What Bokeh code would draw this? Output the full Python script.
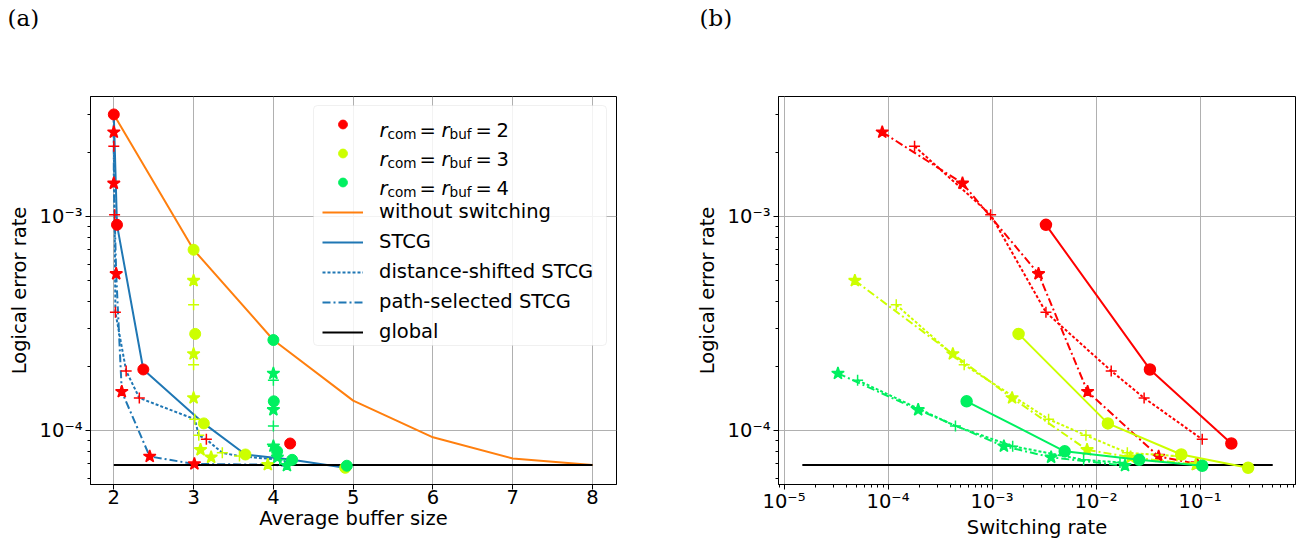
from bokeh.plotting import figure
from bokeh.models import (Range1d, FixedTicker, CustomJSTickFormatter, Legend,
                          LegendItem, Label, BoxAnnotation)
from bokeh.layouts import row
from bokeh.embed import file_html
from bokeh.resources import INLINE

# ---------------- data ----------------
r_values = [2, 3, 4]

# without switching (average buffer size = r)
nosw_buf = [2, 3, 4, 5, 6, 7, 8]
nosw_ler = [3.0e-3, 7.0e-4, 2.65e-4, 1.38e-4, 9.3e-5, 7.4e-5, 6.9e-5]

# global decoding
global_ler = 6.9e-5
global_buf_span = [2, 8]
global_sw_span = [1.5e-5, 0.5]

# STCG
stcg_r2_buf = [2.04, 2.37, 4.21]
stcg_r2_sw = [3.3e-3, 3.3e-2, 0.20]
stcg_r2_ler = [9.15e-4, 1.93e-4, 8.7e-5]
stcg_r3_buf = [3.02, 3.128, 3.65, 4.90]
stcg_r3_sw = [1.8e-3, 1.3e-2, 6.6e-2, 0.29]
stcg_r3_ler = [2.83e-4, 1.08e-4, 7.73e-5, 6.7e-5]
stcg_r4_buf = [4.005, 4.047, 4.235, 4.92]
stcg_r4_sw = [5.7e-4, 5.0e-3, 2.6e-2, 0.105]
stcg_r4_ler = [1.37e-4, 8.0e-5, 7.3e-5, 6.85e-5]

# distance-shifted STCG
dist_r2_buf = [2.0, 2.01, 2.02, 2.155, 2.32, 3.16]
dist_r2_sw = [1.8e-4, 9.7e-4, 3.3e-3, 1.4e-2, 2.9e-2, 0.105]
dist_r2_ler = [2.13e-3, 1.02e-3, 3.57e-4, 1.9e-4, 1.42e-4, 9.1e-5]
dist_r3_buf = [3.0, 3.0, 3.015, 3.065, 3.36, 3.575]
dist_r3_sw = [1.2e-4, 5.4e-4, 3.5e-3, 8.0e-3, 2.0e-2, 6.0e-2]
dist_r3_ler = [3.87e-4, 2.03e-4, 1.13e-4, 9.5e-5, 7.87e-5, 7.6e-5]
dist_r4_buf = [4.0, 4.0, 4.0, 4.08, 4.2]
dist_r4_sw = [5.1e-5, 4.45e-4, 1.58e-3, 7.6e-3, 1.7e-2]
dist_r4_ler = [1.72e-4, 1.05e-4, 8.45e-5, 7.3e-5, 7.1e-5]

# path-selected STCG
path_r2_buf = [2.0, 2.0, 2.03, 2.10, 2.45, 3.01]
path_r2_sw = [8.8e-5, 5.2e-4, 2.8e-3, 8.3e-3, 4.0e-2, 9.4e-2]
path_r2_ler = [2.48e-3, 1.43e-3, 5.4e-4, 1.52e-4, 7.57e-5, 6.98e-5]
path_r3_buf = [3.0, 3.0, 3.0, 3.087, 3.22, 3.93]
path_r3_sw = [4.8e-5, 4.2e-4, 1.56e-3, 8.2e-3, 2.15e-2, 9.1e-2]
path_r3_ler = [5.02e-4, 2.28e-4, 1.42e-4, 8.13e-5, 7.5e-5, 6.93e-5]
path_r4_buf = [4.0, 4.0, 4.0, 4.05, 4.17]
path_r4_sw = [3.3e-5, 1.95e-4, 1.3e-3, 3.7e-3, 1.9e-2]
path_r4_ler = [1.85e-4, 1.25e-4, 8.45e-5, 7.5e-5, 6.85e-5]

# ---------------- styles ----------------
R_COLORS = {2: "#ff0000", 3: "#ccff00", 4: "#00f060"}
BLUE = "#1f77b4"
ORANGE = "#ff7f0e"
FONT = "DejaVu Sans"
FS = "19.5px"
DOT = "3 2"
DASHDOT = "8 3 2 3"

series = {
    "stcg": {2: (stcg_r2_buf, stcg_r2_sw, stcg_r2_ler),
             3: (stcg_r3_buf, stcg_r3_sw, stcg_r3_ler),
             4: (stcg_r4_buf, stcg_r4_sw, stcg_r4_ler)},
    "dist": {2: (dist_r2_buf, dist_r2_sw, dist_r2_ler),
             3: (dist_r3_buf, dist_r3_sw, dist_r3_ler),
             4: (dist_r4_buf, dist_r4_sw, dist_r4_ler)},
    "path": {2: (path_r2_buf, path_r2_sw, path_r2_ler),
             3: (path_r3_buf, path_r3_sw, path_r3_ler),
             4: (path_r4_buf, path_r4_sw, path_r4_ler)},
}
markers = {"stcg": ("circle", 11, None), "dist": ("cross", 11, DOT),
           "path": ("star", 13, DASHDOT)}

sup_fmt = CustomJSTickFormatter(code="""
const sup = {"-":"\u207b","0":"\u2070","1":"\u00b9","2":"\u00b2","3":"\u00b3",
             "4":"\u2074","5":"\u2075","6":"\u2076","7":"\u2077","8":"\u2078","9":"\u2079"};
const e = Math.round(Math.log10(tick));
return "10" + String(e).split("").map(c => sup[c]).join("");
""")

decades = [10.0 ** e for e in range(-6, 1)]
minors = [m * 10.0 ** e for e in range(-6, 0) for m in range(2, 10)]

Y_RANGE = (10 ** -4.252, 10 ** -2.439)
FRAME_B = 484
FRAME_T = 96


def style(p, xlabel, panel, frame_left):
    p.outline_line_color = "black"
    p.outline_line_width = 1
    p.background_fill_color = "white"
    p.border_fill_color = "white"
    p.grid.grid_line_color = "#b0b0b0"
    p.grid.grid_line_width = 1
    for ax in p.axis:
        ax.axis_line_color = "black"
        ax.major_tick_line_color = "black"
        ax.minor_tick_line_color = "black"
        ax.major_tick_in = 0
        ax.major_tick_out = 5
        ax.minor_tick_in = 0
        ax.minor_tick_out = 3
        ax.major_label_text_font = FONT
        ax.major_label_text_font_size = FS
        ax.major_label_text_color = "black"
        ax.axis_label_text_font = FONT
        ax.axis_label_text_font_size = FS
        ax.axis_label_text_font_style = "normal"
        ax.axis_label_text_color = "black"
    p.xaxis.axis_label = xlabel
    p.xaxis.major_label_standoff = 0
    p.xaxis.axis_label_standoff = 0
    p.yaxis.axis_label = "Logical error rate"
    p.yaxis.major_label_standoff = 3
    p.yaxis.axis_label_standoff = 6
    p.yaxis.ticker = FixedTicker(ticks=decades, minor_ticks=minors)
    p.yaxis.formatter = sup_fmt
    # panel letter placed in the top border panel
    p.add_layout(Label(x=7 - frame_left, y=FRAME_T - 17, x_units="screen",
                       y_units="screen", text=panel, text_font="DejaVu Serif",
                       text_font_size="23px", text_color="black",
                       text_baseline="alphabetic", text_align="left"),
                 "above")


def frontier(bufs, lers):
    pts = sorted(zip(bufs, lers), key=lambda t: (t[0], -t[1]))
    fx, fy, best = [], [], float("inf")
    for b, l in pts:
        if l < best:
            fx.append(b)
            fy.append(l)
            best = l
    return fx, fy


# ---------------- (a) ----------------
FRAME_L = 90
p1 = figure(width=690, height=542, y_axis_type="log",
            x_range=Range1d(1.708, 8.3), y_range=Range1d(*Y_RANGE),
            output_backend="svg", toolbar_location=None, title=None,
            min_border_left=90, min_border_right=74,
            min_border_top=FRAME_T, min_border_bottom=58)
style(p1, "Average buffer size", "(a)", FRAME_L)
p1.xaxis.ticker = FixedTicker(ticks=nosw_buf)

nosw_line = p1.line(nosw_buf, nosw_ler, line_color=ORANGE, line_width=2)

front_lines = {}
for key, dash in (("stcg", "solid"), ("dist", DOT), ("path", DASHDOT)):
    allb = [b for b in r_values]
    alll = [nosw_ler[nosw_buf.index(r)] for r in r_values]
    for r in r_values:
        b, s, l = series[key][r]
        allb += b
        alll += l
    fx, fy = frontier(allb, alll)
    front_lines[key] = p1.line(fx, fy, line_color=BLUE, line_width=2,
                               line_dash=dash)

glob1 = p1.line(global_buf_span, [global_ler, global_ler],
                line_color="black", line_width=2)

r_circle_renderers = {}
for r in r_values:
    c = R_COLORS[r]
    for key in ("path", "dist"):
        b, s, l = series[key][r]
        m, sz, _ = markers[key]
        p1.scatter(b, l, marker=m, size=sz, fill_color=c, line_color=c,
                   line_width=1.5)
    b, s, l = series["stcg"][r]
    r_circle_renderers[r] = p1.scatter(
        [r] + b, [nosw_ler[nosw_buf.index(r)]] + l, marker="circle", size=11,
        fill_color=c, line_color=c)

# empty renderers only used for legend glyphs
leg_circ = p1.scatter(x=[], y=[], marker="circle", size=10,
                      fill_color=BLUE, line_color=BLUE)
leg_cross = p1.scatter(x=[], y=[], marker="cross", size=10,
                       line_color=BLUE, line_width=1.5)
leg_star = p1.scatter(x=[], y=[], marker="star", size=10,
                      fill_color=BLUE, line_color=BLUE)

# legend background box (drawn beneath the legend content)
p1.add_layout(BoxAnnotation(left=313 - FRAME_L, right=606 - FRAME_L,
                            top=FRAME_B - 105, bottom=FRAME_B - 345,
                            left_units="screen", right_units="screen",
                            top_units="screen", bottom_units="screen",
                            fill_color="white", fill_alpha=0.85,
                            line_color="#cccccc", line_width=1,
                            border_radius=4, level="annotation"))

items = [
    LegendItem(label=" ", renderers=[r_circle_renderers[2]]),
    LegendItem(label=" ", renderers=[r_circle_renderers[3]]),
    LegendItem(label=" ", renderers=[r_circle_renderers[4]]),
    LegendItem(label="without switching", renderers=[nosw_line]),
    LegendItem(label="STCG", renderers=[front_lines["stcg"], leg_circ]),
    LegendItem(label="distance-shifted STCG",
               renderers=[front_lines["dist"], leg_cross]),
    LegendItem(label="path-selected STCG",
               renderers=[front_lines["path"], leg_star]),
    LegendItem(label="global", renderers=[glob1]),
]
legend = Legend(items=items, location="top_right", margin=10, padding=7,
                spacing=7, label_height=22, glyph_height=22, glyph_width=41,
                label_standoff=16, label_width=220,
                label_text_font=FONT, label_text_font_size=FS,
                label_text_color="black", border_line_alpha=0,
                background_fill_alpha=0)
p1.add_layout(legend, "center")

# math labels r_com = r_buf = n in the three colour rows
for i, r in enumerate(r_values):
    base = 123 + 29 * i + 6.5
    sub = base + 4
    pieces = [
        (379, base, "r", FS, "italic"),
        (387, sub, "com", "13.6px", "normal"),
        (419, base, "=", FS, "normal"),
        (441, base, "r", FS, "italic"),
        (449, sub, "buf", "13.6px", "normal"),
        (475, base, "=", FS, "normal"),
        (496, base, str(r), FS, "normal"),
    ]
    for sx, sy, t, fs, st in pieces:
        p1.add_layout(Label(x=sx - FRAME_L, y=FRAME_B - sy, x_units="screen",
                            y_units="screen", text=t, text_font=FONT,
                            text_font_size=fs, text_font_style=st,
                            text_color="black", text_baseline="alphabetic",
                            text_align="left", level="overlay"))

# ---------------- (b) ----------------
FRAME_L2 = 88
p2 = figure(width=625, height=542, x_axis_type="log", y_axis_type="log",
            x_range=Range1d(10 ** -5.053, 10 ** -0.082),
            y_range=Range1d(*Y_RANGE),
            output_backend="svg", toolbar_location=None, title=None,
            min_border_left=FRAME_L2, min_border_right=20,
            min_border_top=FRAME_T, min_border_bottom=58)
style(p2, "Switching rate", "(b)", FRAME_L2 - 2)
p2.xaxis.ticker = FixedTicker(ticks=decades, minor_ticks=minors)
p2.xaxis.formatter = sup_fmt

p2.line(global_sw_span, [global_ler, global_ler], line_color="black",
        line_width=2)
for r in r_values:
    c = R_COLORS[r]
    for key in ("stcg", "dist", "path"):
        b, s, l = series[key][r]
        m, sz, dash = markers[key]
        p2.line(s, l, line_color=c, line_width=2,
                line_dash=dash if dash else "solid")
        p2.scatter(s, l, marker=m, size=sz, fill_color=c, line_color=c,
                   line_width=1.5)

layout = row(p1, p2)
open("out.html", "w").write(file_html(layout, INLINE))
